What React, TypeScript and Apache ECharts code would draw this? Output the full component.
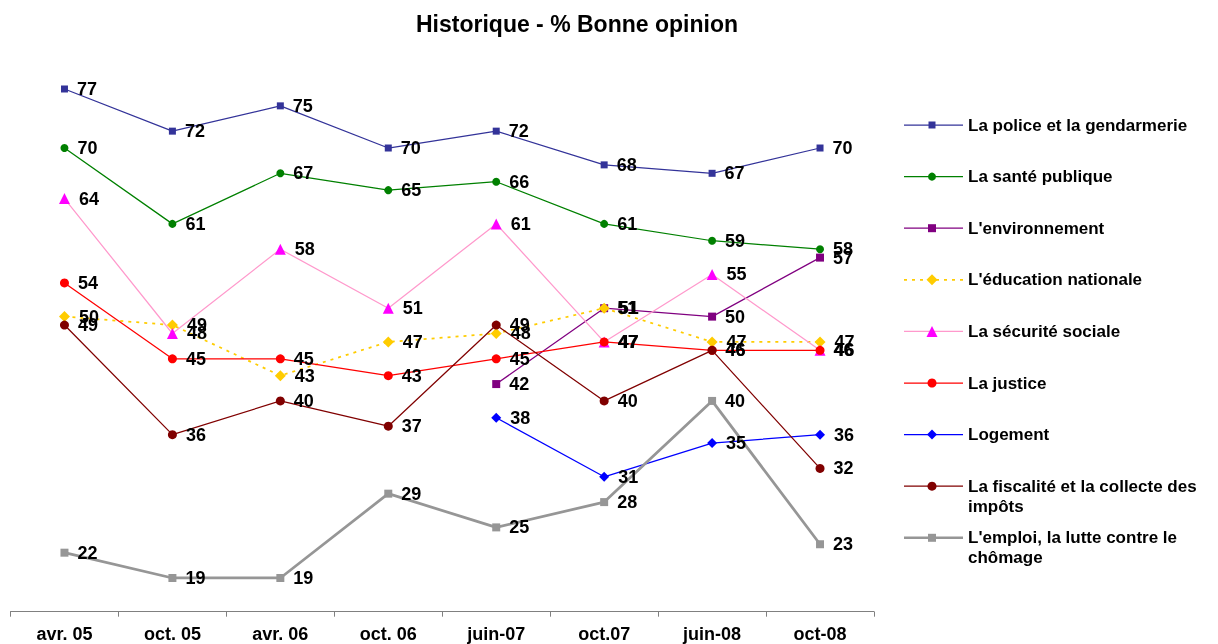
import React, { useEffect, useRef } from 'react';
import * as echarts from 'echarts';

const categories = ['avr. 05', 'oct. 05', 'avr. 06', 'oct. 06', 'juin-07', 'oct.07', 'juin-08', 'oct-08'];

const police = [77, 72, 75, 70, 72, 68, 67, 70];
const sante = [70, 61, 67, 65, 66, 61, 59, 58];
const environnement = [null, null, null, null, 42, 51, 50, 57];
const education = [50, 49, 43, 47, 48, 51, 47, 47];
const securite = [64, 48, 58, 51, 61, 47, 55, 46];
const justice = [54, 45, 45, 43, 45, 47, 46, 46];
const logement = [null, null, null, null, 38, 31, 35, 36];
const fiscalite = [49, 36, 40, 37, 49, 40, 46, 32];
const emploi = [22, 19, 19, 29, 25, 28, 40, 23];

const seriesNames = [
  'La police et la gendarmerie',
  'La santé publique',
  "L'environnement",
  "L'éducation nationale",
  'La sécurité sociale',
  'La justice',
  'Logement',
  'La fiscalité et la collecte des impôts',
  "L'emploi, la lutte contre le chômage",
];
const legendLabels = [
  'La police et la gendarmerie',
  'La santé publique',
  "L'environnement",
  "L'éducation nationale",
  'La sécurité sociale',
  'La justice',
  'Logement',
  'La fiscalité et la collecte des\nimpôts',
  "L'emploi, la lutte contre le\nchômage",
];
const seriesData = [police, sante, environnement, education, securite, justice, logement, fiscalite, emploi];

const FONT = 'Arial, "Liberation Sans", sans-serif';

type Sty = { line: string; marker: string; symbol: string; size: number; width: number; dash?: number[] };
const styles: Sty[] = [
  { line: '#333399', marker: '#333399', symbol: 'rect', size: 7, width: 1.25 },
  { line: '#008000', marker: '#008000', symbol: 'circle', size: 8, width: 1.25 },
  { line: '#800080', marker: '#800080', symbol: 'rect', size: 8, width: 1.25 },
  { line: '#FFCC00', marker: '#FFCC00', symbol: 'diamond', size: 11, width: 1.75, dash: [3, 5] },
  { line: '#FF99CC', marker: '#FF00FF', symbol: 'triangle', size: 11, width: 1.25 },
  { line: '#FF0000', marker: '#FF0000', symbol: 'circle', size: 9, width: 1.25 },
  { line: '#0000FF', marker: '#0000FF', symbol: 'diamond', size: 10, width: 1.25 },
  { line: '#800000', marker: '#800000', symbol: 'circle', size: 9, width: 1.25 },
  { line: '#969696', marker: '#969696', symbol: 'rect', size: 8, width: 2.75 },
];

function legendMarker(s: Sty, cx: number, cy: number): any {
  const h = s.size / 2;
  const style = { fill: s.marker };
  if (s.symbol === 'rect') return { type: 'rect', shape: { x: cx - h, y: cy - h, width: s.size, height: s.size }, style };
  if (s.symbol === 'circle') return { type: 'circle', shape: { cx, cy, r: h }, style };
  if (s.symbol === 'diamond')
    return { type: 'polygon', shape: { points: [[cx, cy - h], [cx + h, cy], [cx, cy + h], [cx - h, cy]] }, style };
  return { type: 'polygon', shape: { points: [[cx, cy - h], [cx + h, cy + h], [cx - h, cy + h]] }, style };
}

export default function App() {
  const ref = useRef<HTMLDivElement>(null);
  useEffect(() => {
    if (!ref.current) return;
    const chart = echarts.init(ref.current, undefined, { renderer: 'svg' });

    const legendEls: any[] = [];
    seriesNames.forEach((_, i) => {
      const s = styles[i];
      const y = 125 + i * 51.6;
      legendEls.push({
        type: 'line',
        shape: { x1: 904, y1: y, x2: 963, y2: y },
        style: { stroke: s.line, lineWidth: Math.min(s.width, 2.5), lineDash: s.dash },
      });
      legendEls.push(legendMarker(s, 932, y));
      legendEls.push({
        type: 'text',
        x: 968,
        y: y - 10,
        style: {
          text: legendLabels[i],
          font: `bold 17px ${FONT}`,
          fill: '#000',
          verticalAlign: 'top',
          lineHeight: 20,
        },
      });
    });

    chart.setOption({
      animation: false,
      title: {
        text: 'Historique - % Bonne opinion',
        left: 416,
        top: 12,
        padding: 0,
        textStyle: { fontFamily: FONT, fontWeight: 'bold', fontSize: 23, color: '#000' },
      },
      grid: { left: 10.5, right: 344, top: 63.7, bottom: 32.3, containLabel: false },
      xAxis: {
        type: 'category',
        data: categories,
        boundaryGap: true,
        axisLine: { lineStyle: { color: '#808080', width: 1 } },
        axisTick: { show: true, length: 5, lineStyle: { color: '#808080' } },
        axisLabel: { color: '#000', fontFamily: FONT, fontWeight: 'bold', fontSize: 18, margin: 13 },
      },
      yAxis: {
        type: 'value',
        min: 15,
        max: 80,
        show: false,
        splitLine: { show: false },
      },
      series: seriesNames.map((name, i) => ({
        name,
        type: 'line',
        data: seriesData[i],
        symbol: styles[i].symbol,
        symbolSize: styles[i].size,
        lineStyle: { color: styles[i].line, width: styles[i].width, type: styles[i].dash ? styles[i].dash : 'solid' },
        itemStyle: { color: styles[i].marker },
        label: {
          show: true,
          position: 'right',
          distance: 9,
          color: '#000',
          fontFamily: FONT,
          fontWeight: 'bold',
          fontSize: 18,
        },
        emphasis: { disabled: true },
      })),
      graphic: legendEls,
    });
    return () => chart.dispose();
  }, []);
  return <div ref={ref} style={{ position: 'fixed', left: 0, top: 0, width: 1218, height: 644 }} />;
}
